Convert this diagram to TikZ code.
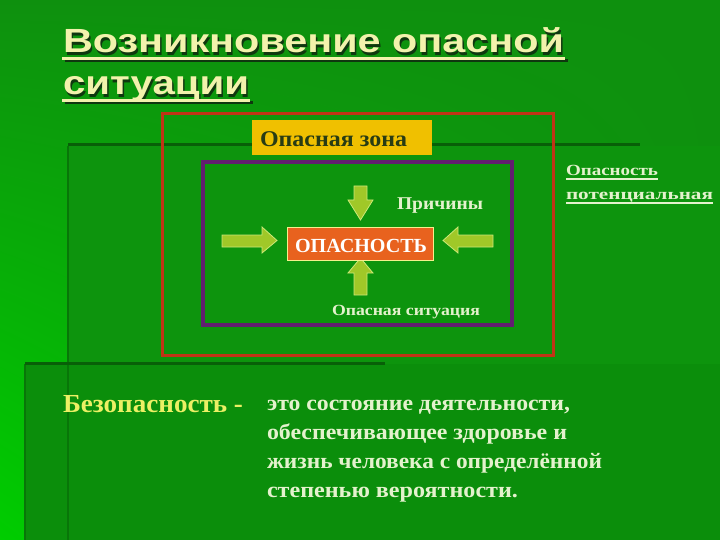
\documentclass[tikz,border=0pt]{standalone}
\usepackage{fontspec}
\usepackage{graphicx}
\usetikzlibrary{shadings}
\setmainfont{Liberation Serif}
\newfontfamily\titlefont{Liberation Sans}
\definecolor{bgtop}{RGB}{14,144,14}
\definecolor{bgbright}{RGB}{0,205,0}
\definecolor{panelA}{RGB}{13,148,13}
\definecolor{panelB}{RGB}{11,142,11}
\definecolor{edgedark}{RGB}{8,95,8}
\definecolor{edgesoft}{RGB}{8,118,8}
\definecolor{titlecol}{RGB}{242,242,172}
\definecolor{shadowcol}{RGB}{15,55,15}
\definecolor{redframe}{RGB}{192,52,22}
\definecolor{purpleframe}{RGB}{98,30,112}
\definecolor{zonefill}{RGB}{240,192,0}
\definecolor{zonetext}{RGB}{40,60,20}
\definecolor{arrowfill}{RGB}{160,200,40}
\definecolor{arrowedge}{RGB}{205,232,120}
\definecolor{dangerfill}{RGB}{232,98,30}
\definecolor{dangeredge}{RGB}{245,240,140}
\definecolor{lighttext}{RGB}{228,242,205}
\definecolor{safetext}{RGB}{236,240,100}
\newcommand{\shadowtitle}[2]{\titlefont\bfseries\fontsize{33.5}{33.5}\selectfont\makebox[0pt][l]{\hspace{1.5pt}\raisebox{-2.5pt}{\color{shadowcol}\resizebox{#1}{\height}{#2}}}\color{titlecol}\resizebox{#1}{\height}{#2}}
\begin{document}
\begin{tikzpicture}[x=1pt,y=-1pt,
  txt/.style={inner sep=0pt, outer sep=0pt, anchor=base west},
  blockarrow/.style={fill=arrowfill, draw=arrowedge, line width=0.8pt, line join=miter},
  frame/.style={draw, inner sep=0pt, fill=none}]
\useasboundingbox (0,0) rectangle (720,540);
% background
\shade[upper left=bgtop, upper right=bgtop, lower left=bgbright, lower right=bgtop] (0,0) rectangle (720,540);
\fill[panelA] (68,146) rectangle (720,540);
\fill[panelB] (25,364) rectangle (720,540);
\draw[edgesoft, line width=2pt] (68,146) -- (68,540);
\draw[edgesoft, line width=1.5pt] (25,364) -- (25,540);
\draw[edgedark, line width=3pt] (68,145) -- (640,145);
\draw[edgedark, line width=3pt] (25,363) -- (385,363);
% title
\fill[shadowcol] (64.5,59.5) rectangle (567.5,62.5);
\fill[shadowcol] (64.5,101.5) rectangle (252.5,104.5);
\node[txt] (t1) at (63,53) {\shadowtitle{501pt}{Возникновение опасной}};
\node[txt] (t2) at (63,95) {\shadowtitle{186pt}{ситуации}};
\fill[titlecol] (62,57) rectangle (565,60);
\fill[titlecol] (62,99) rectangle (250,102);
% frames
\node[frame, draw=redframe, line width=3pt, minimum width=391pt, minimum height=241pt] (zone) at (357.5,234.5) {};
\node[frame, draw=purpleframe, line width=4pt, minimum width=309pt, minimum height=163pt] (sit) at (357.5,243.5) {};
\node[fill=zonefill, inner sep=0pt, minimum width=180pt, minimum height=35pt] (zonelbl) at (342,137.5) {};
\node[txt, text=zonetext] (zonetxt) at (260,147) {\bfseries\fontsize{22.5}{22.5}\selectfont\resizebox{147pt}{\height}{Опасная зона}};
% block arrows
\draw[blockarrow] (354,186) -- (367,186) -- (367,200) -- (373,200) -- (360.5,220) -- (348,200) -- (354,200) -- cycle;
\draw[blockarrow] (354,295) -- (367,295) -- (367,273) -- (373,273) -- (360.5,258) -- (348,273) -- (354,273) -- cycle;
\draw[blockarrow] (222,235) -- (262,235) -- (262,227) -- (277,240.5) -- (262,253) -- (262,247) -- (222,247) -- cycle;
\draw[blockarrow] (493,235) -- (458,235) -- (458,227) -- (443,240.5) -- (458,253) -- (458,247) -- (493,247) -- cycle;
% danger box
\node[fill=dangerfill, draw=dangeredge, line width=0.8pt, inner sep=0pt, minimum width=146pt, minimum height=33pt] (danger) at (360,243.5) {};
\node[txt, text=white] (dangertxt) at (295,252) {\bfseries\fontsize{20}{20}\selectfont\resizebox{132pt}{\height}{ОПАСНОСТЬ}};
% labels
\node[txt, text=lighttext] (causes) at (397,210) {\bfseries\fontsize{18}{18}\selectfont\resizebox{86pt}{\height}{Причины}};
\node[txt, text=lighttext] (situation) at (332,315) {\bfseries\fontsize{15.5}{15.5}\selectfont\resizebox{148pt}{\height}{Опасная ситуация}};
\node[txt, text=lighttext] (pot1) at (566,176) {\bfseries\fontsize{15.5}{15.5}\selectfont\resizebox{92pt}{\height}{Опасность}};
\node[txt, text=lighttext] (pot2) at (566,200) {\bfseries\fontsize{15.5}{15.5}\selectfont\resizebox{147pt}{\height}{потенциальная}};
\fill[lighttext] (566,178.5) rectangle (658,180);
\fill[lighttext] (566,202.5) rectangle (713,204);
% definition
\node[txt, text=safetext] (safe) at (63,412) {\bfseries\fontsize{26}{26}\selectfont\resizebox{180pt}{\height}{Безопасность -}};
\node[txt, text=lighttext] (d1) at (267,410) {\bfseries\fontsize{22}{22}\selectfont\resizebox{303pt}{\height}{это состояние деятельности,}};
\node[txt, text=lighttext] (d2) at (267,439) {\bfseries\fontsize{22}{22}\selectfont\resizebox{300pt}{\height}{обеспечивающее здоровье и}};
\node[txt, text=lighttext] (d3) at (267,468) {\bfseries\fontsize{22}{22}\selectfont\resizebox{335pt}{\height}{жизнь человека с определённой}};
\node[txt, text=lighttext] (d4) at (267,497) {\bfseries\fontsize{22}{22}\selectfont\resizebox{251pt}{\height}{степенью вероятности.}};
\end{tikzpicture}
\end{document}
